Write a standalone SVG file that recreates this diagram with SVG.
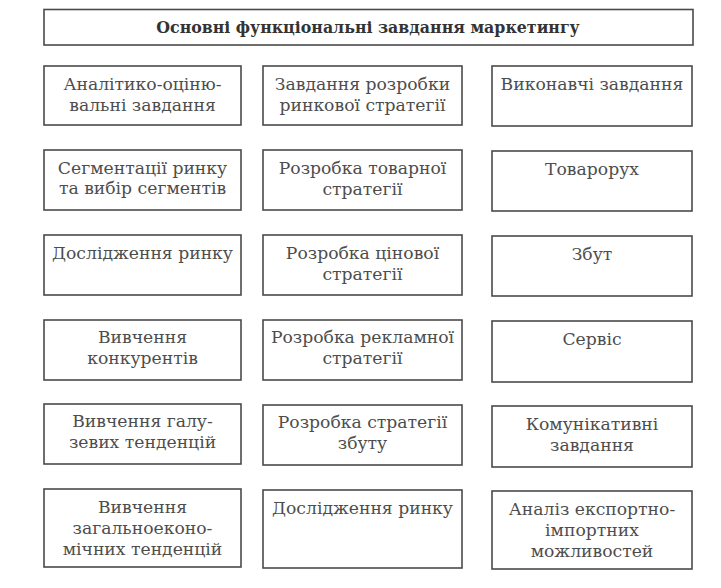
<svg xmlns="http://www.w3.org/2000/svg" width="721" height="588" viewBox="0 0 721 588">
<style>
.bg{fill:#ffffff}
.box{fill:#ffffff;stroke:#4a4a4a;stroke-width:1.6}
.t{font-family:"DejaVu Serif","Liberation Serif",serif;font-size:17.2px;fill:#4d4d4d;text-anchor:middle}
.title{font-family:"DejaVu Serif","Liberation Serif",serif;font-size:15.8px;font-weight:bold;fill:#333333;text-anchor:middle}
</style>
<rect class="bg" x="0" y="0" width="721" height="588"/>
<g id="title">
<rect class="box" x="44" y="9.5" width="649" height="35.5"/>
<text class="title" x="368" y="33">Основні функціональні завдання маркетингу</text>
</g>
<g id="connectors"></g>
<!-- Column 1 -->
<g id="c1r1"><rect class="box" x="44" y="66" width="197" height="59"/>
<text class="t" x="142.5" y="90">Аналітико-оціню-</text><text class="t" x="142.5" y="111">вальні завдання</text></g>
<g id="c1r2"><rect class="box" x="44" y="150" width="197" height="60"/>
<text class="t" x="142.5" y="174">Сегментації ринку</text><text class="t" x="142.5" y="194">та вибір сегментів</text></g>
<g id="c1r3"><rect class="box" x="44" y="235" width="197" height="60"/>
<text class="t" x="142.5" y="259">Дослідження ринку</text></g>
<g id="c1r4"><rect class="box" x="44" y="320" width="197" height="60"/>
<text class="t" x="142.5" y="343">Вивчення</text><text class="t" x="142.5" y="364">конкурентів</text></g>
<g id="c1r5"><rect class="box" x="44" y="404" width="197" height="60"/>
<text class="t" x="142.5" y="427">Вивчення галу-</text><text class="t" x="142.5" y="448">зевих тенденцій</text></g>
<g id="c1r6"><rect class="box" x="44" y="489" width="197" height="78"/>
<text class="t" x="142.5" y="513">Вивчення</text><text class="t" x="142.5" y="534">загальноеконо-</text><text class="t" x="142.5" y="555">мічних тенденцій</text></g>
<!-- Column 2 -->
<g id="c2r1"><rect class="box" x="263" y="66" width="199" height="59"/>
<text class="t" x="362.5" y="90">Завдання розробки</text><text class="t" x="362.5" y="111">ринкової стратегії</text></g>
<g id="c2r2"><rect class="box" x="263" y="150" width="199" height="60"/>
<text class="t" x="362.5" y="174">Розробка товарної</text><text class="t" x="362.5" y="195">стратегії</text></g>
<g id="c2r3"><rect class="box" x="263" y="235" width="199" height="60"/>
<text class="t" x="362.5" y="259">Розробка цінової</text><text class="t" x="362.5" y="280">стратегії</text></g>
<g id="c2r4"><rect class="box" x="263" y="320" width="199" height="60"/>
<text class="t" x="362.5" y="343">Розробка рекламної</text><text class="t" x="362.5" y="364">стратегії</text></g>
<g id="c2r5"><rect class="box" x="263" y="405" width="199" height="60"/>
<text class="t" x="362.5" y="428">Розробка стратегії</text><text class="t" x="362.5" y="449">збуту</text></g>
<g id="c2r6"><rect class="box" x="263" y="490" width="199" height="78"/>
<text class="t" x="362.5" y="514">Дослідження ринку</text></g>
<!-- Column 3 -->
<g id="c3r1"><rect class="box" x="492" y="66" width="200" height="60"/>
<text class="t" x="592" y="90">Виконавчі завдання</text></g>
<g id="c3r2"><rect class="box" x="492" y="151" width="200" height="60"/>
<text class="t" x="592" y="175">Товарорух</text></g>
<g id="c3r3"><rect class="box" x="492" y="236" width="200" height="60"/>
<text class="t" x="592" y="260">Збут</text></g>
<g id="c3r4"><rect class="box" x="492" y="321" width="200" height="61"/>
<text class="t" x="592" y="345">Сервіс</text></g>
<g id="c3r5"><rect class="box" x="492" y="406" width="200" height="61"/>
<text class="t" x="592" y="430">Комунікативні</text><text class="t" x="592" y="451">завдання</text></g>
<g id="c3r6"><rect class="box" x="492" y="491" width="200" height="78"/>
<text class="t" x="592" y="515">Аналіз експортно-</text><text class="t" x="592" y="536">імпортних</text><text class="t" x="592" y="557">можливостей</text></g>
</svg>
